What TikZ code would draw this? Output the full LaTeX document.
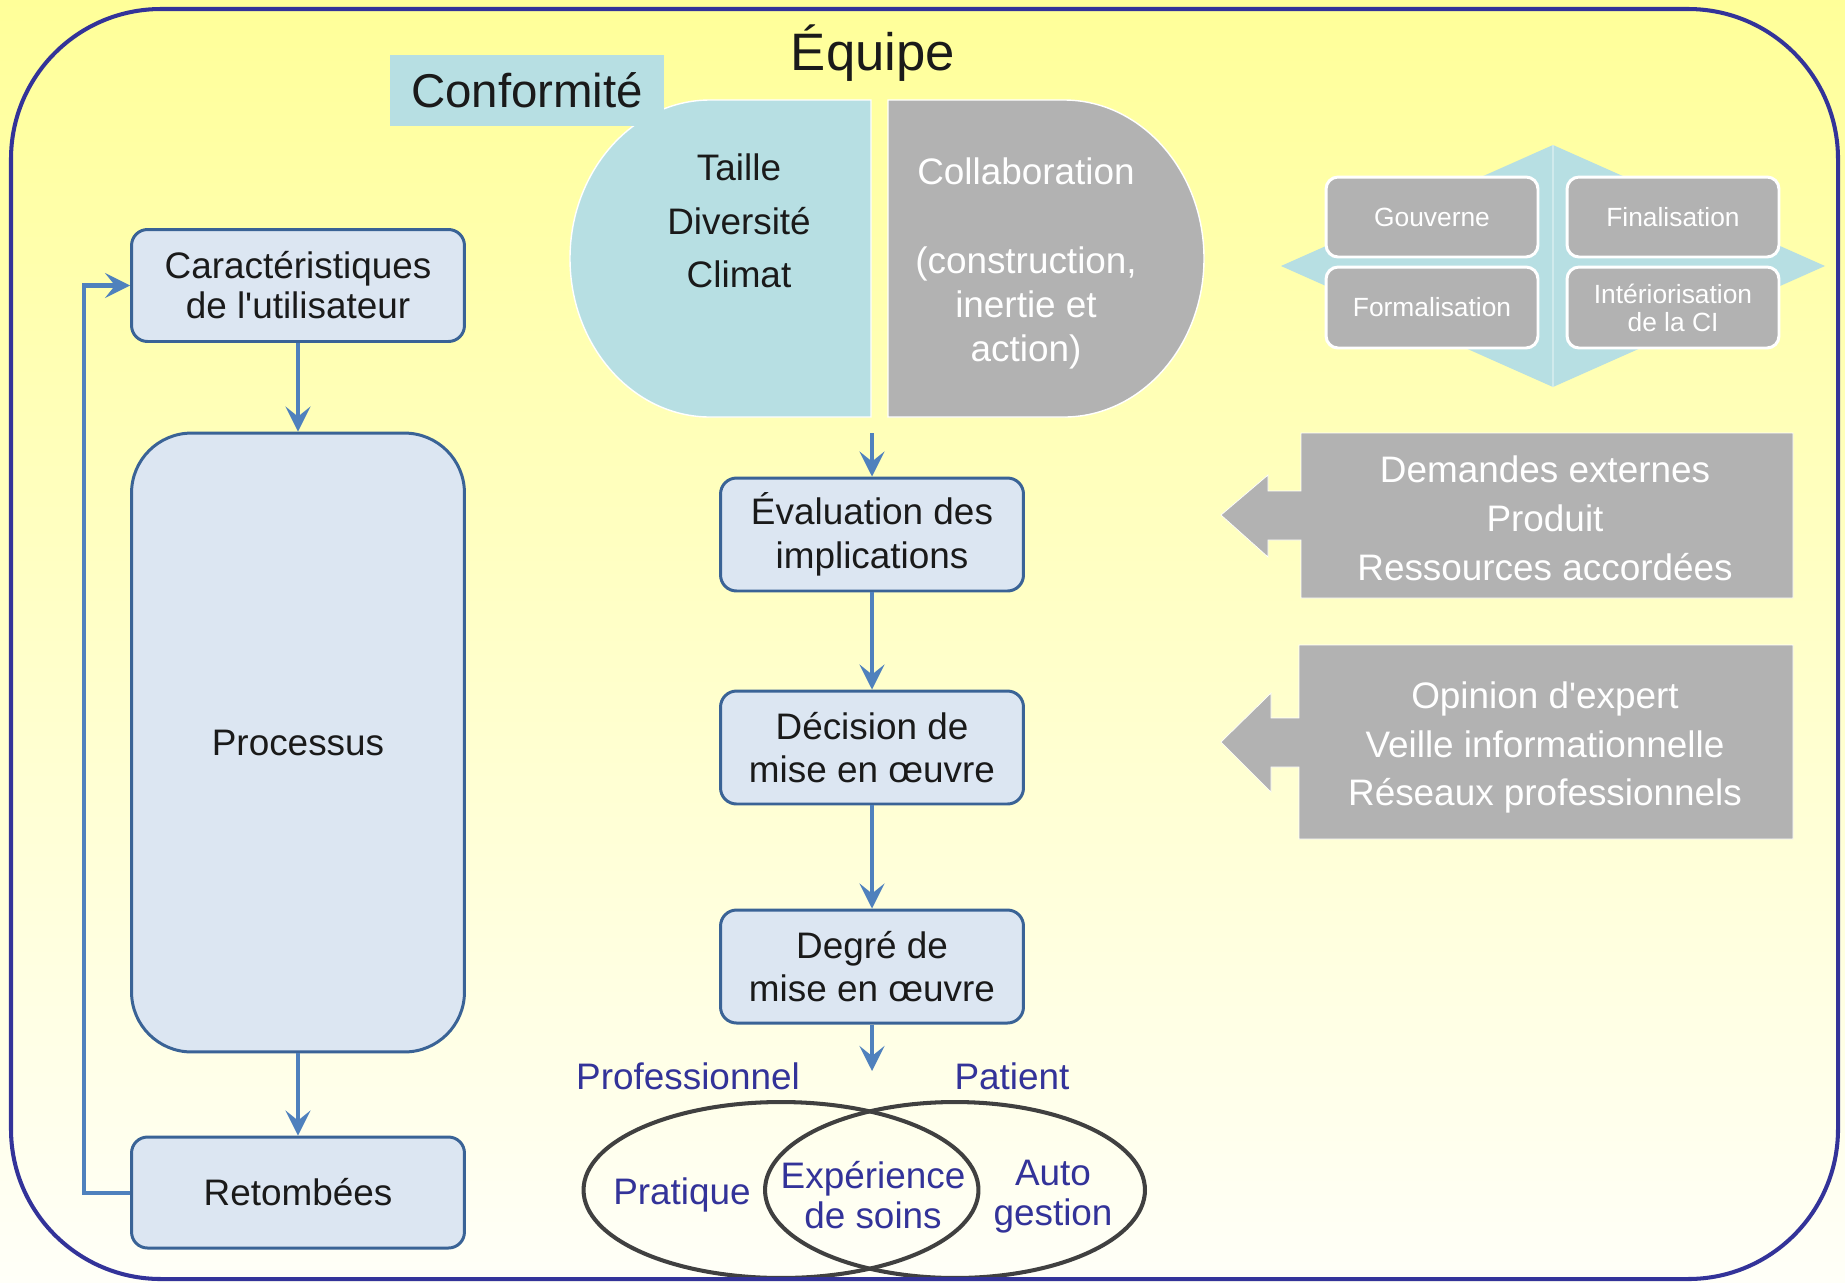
\documentclass[tikz,border=0pt]{standalone}
\usepackage{fontspec}
\newfontfamily\af{Liberation Sans}
\usetikzlibrary{arrows.meta,shapes.geometric}
\definecolor{yelT}{HTML}{FFFF99}
\definecolor{yelB}{HTML}{FFFFF8}
\definecolor{framec}{HTML}{333399}
\definecolor{boxf}{HTML}{DCE6F2}
\definecolor{boxb}{HTML}{3A6396}
\definecolor{arrc}{HTML}{4F81BD}
\definecolor{cyanc}{HTML}{B7DFE3}
\definecolor{grayc}{HTML}{B2B2B2}
\definecolor{txt}{HTML}{1A1A1A}
\definecolor{vennc}{HTML}{333399}
\definecolor{ellc}{HTML}{404040}
\begin{document}
\begin{tikzpicture}[x=0.02cm,y=-0.02cm,
  bx/.style={draw=boxb, line width=1.7pt, fill=boxf, rounded corners=0.32cm, align=center, text=txt, inner sep=0pt, minimum width=6.66cm, minimum height=2.24cm, font=\af\fontsize{21}{22.7}\selectfont},
  cbx/.style={bx, minimum width=6.06cm, minimum height=2.26cm, font=\af\fontsize{21}{24.7}\selectfont},
  arr/.style={draw=arrc, line width=2.3pt, -{Stealth[length=0.5cm,width=0.5cm,inset=0.2cm]}},
  sbox/.style={fill=grayc, draw=white, line width=1.7pt, rounded corners=0.24cm, minimum width=4.24cm, minimum height=1.6cm, text=white, align=center, inner sep=0pt, font=\af\fontsize{15}{16}\selectfont},
  wtxt/.style={text=white, align=center, font=\af\fontsize{21}{27.8}\selectfont},
  vtxt/.style={text=vennc, align=center, font=\af\fontsize{21}{22.7}\selectfont},
  vell/.style={draw=ellc, line width=2.3pt, ellipse, inner sep=0pt, minimum height=3.52cm},
  callout/.style={fill=grayc, draw=white, line width=0.4pt}
]
\useasboundingbox (0,0) rectangle (1845,1282);
\shade[top color=yelT, bottom color=yelB] (0,0) rectangle (1845,1282);

% team shapes
\path[fill=cyanc, draw=white, line width=0.8pt] (871,100) -- (710,100) .. controls (633,100) and (570,171) .. (570,258.5) .. controls (570,346) and (633,417) .. (710,417) -- (871,417) -- cycle;
\path[fill=grayc, draw=white, line width=0.8pt] (888,100) -- (1064,100) .. controls (1141,100) and (1204,171) .. (1204,258.5) .. controls (1204,346) and (1141,417) .. (1064,417) -- (888,417) -- cycle;
\node[fill=cyanc, minimum width=5.48cm, minimum height=1.42cm, inner sep=0pt, text=txt, font=\af\fontsize{27}{30}\selectfont] (conf) at (527,90.5) {Conformité};
\node[text=txt, font=\af\fontsize{30}{34}\selectfont] (equipe) at (873,53) {Équipe};
\node[text=txt, align=center, font=\af\fontsize{21}{30.6}\selectfont] (tdc) at (739,221) {Taille\\Diversité\\Climat};
\node[text=white, align=center, font=\af\fontsize{21}{25.3}\selectfont] (collab) at (1026,263.5) {Collaboration\\[25.3pt](construction,\\inertie et\\action)};

% diamond and small boxes
\path[fill=cyanc] (1281,266) -- (1553,145) -- (1825,266) -- (1553,387) -- cycle;
\path[draw=white, opacity=0.35, line width=0.6pt] (1553,145) -- (1553,387);
\node[sbox] (gouv) at (1432,217) {Gouverne};
\node[sbox] (fin) at (1673,217) {Finalisation};
\node[sbox, minimum height=1.62cm] (form) at (1432,307.5) {Formalisation};
\node[sbox, minimum height=1.62cm] (inter) at (1673,307.5) {Intériorisation\\de la CI};

% callouts
\path[callout] (1301,433) -- (1793,433) -- (1793,598) -- (1301,598) -- (1301,540) -- (1268,540) -- (1268,557) -- (1221,515) -- (1268,475) -- (1268,491) -- (1301,491) -- cycle;
\node[wtxt] (dem) at (1545,518) {Demandes externes\\Produit\\Ressources accordées};
\path[callout] (1299,645) -- (1793,645) -- (1793,839) -- (1299,839) -- (1299,767) -- (1271,767) -- (1271,792) -- (1221,742) -- (1271,693) -- (1271,718) -- (1299,718) -- cycle;
\node[wtxt] (opi) at (1545,747.5) {Opinion d'expert\\Veille informationnelle\\Réseaux professionnels};

% left column
\node[bx] (car) at (298,285.5) {Caractéristiques\\de l'utilisateur};
\node[bx, minimum height=12.38cm, rounded corners=1.2cm] (proc) at (298,742.5) {Processus};
\node[bx, minimum height=2.22cm] (ret) at (298,1192.5) {Retombées};
\coordinate (fb) at (84,0);
\draw[arr] (car) -- (proc);
\draw[arr] (proc) -- (ret);
\draw[arr] (ret.west) -- (ret.west -| fb) |- (car.west);

% center column
\node[cbx] (eval) at (872,534.5) {Évaluation des\\implications};
\node[cbx] (dec) at (872,747.5) {Décision de\\mise en œuvre};
\node[cbx] (deg) at (872,966.5) {Degré de\\mise en œuvre};
\coordinate (t1) at (872,433);
\coordinate (t2) at (872,1071);
\draw[arr] (t1) -- (eval);
\draw[arr] (eval) -- (dec);
\draw[arr] (dec) -- (deg);
\draw[arr] (deg) -- (t2);

% venn
\node[vell, minimum width=7.9cm] (pro) at (781,1190) {};
\node[vell, minimum width=7.6cm] (pat) at (955,1190) {};
\node[vtxt] (lpro) at (688,1076) {Professionnel};
\node[vtxt] (lpat) at (1012,1076) {Patient};
\node[vtxt] (prat) at (682,1195) {Pratique};
\node[vtxt] (exp) at (873,1195) {Expérience\\de soins};
\node[vtxt] (auto) at (1053,1196.5) {Auto\\gestion};

% frame
\draw[framec, line width=2.3pt, rounded corners=3cm] (11,9) rectangle (1838,1279);
\end{tikzpicture}
\end{document}
